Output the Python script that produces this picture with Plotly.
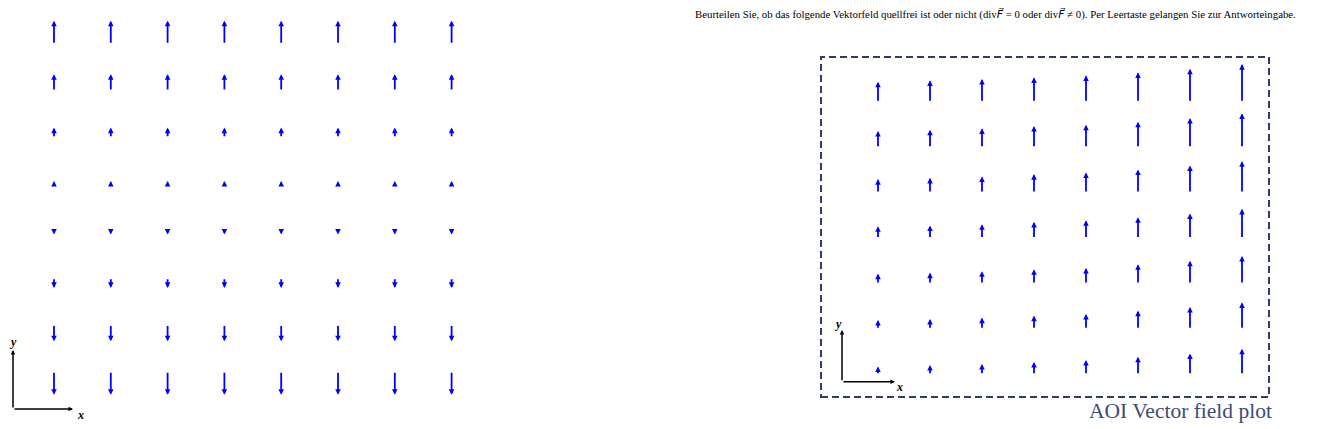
import plotly.graph_objects as go

W, H = 1325, 429
OFF = 8  # page body margin in the browser, positions below are page pixels

# --- DATA ---
# left field: 8 columns x 8 rows, vectors point straight up/down
LEFT_COLS = [1, 2, 3, 4, 5, 6, 7, 8]
LEFT_ROWS = [3.5, 2.5, 1.5, 0.5, -0.5, -1.5, -2.5, -3.5]
LEFT_VY = [3.5, 2.5, 1.5, 0.5, -0.5, -1.5, -2.5, -3.5]   # one value per row

# right field (AOI): 8 columns x 7 rows, vertical component per cell
RIGHT_COLS = [1, 2, 3, 4, 5, 6, 7, 8]
RIGHT_ROWS = [7, 6, 5, 4, 3, 2, 1]
RIGHT_VY = [
    [2.06, 2.20, 2.33, 2.50, 2.70, 3.00, 3.36, 3.83],
    [1.67, 1.80, 1.94, 2.17, 2.30, 2.60, 2.97, 3.44],
    [1.40, 1.53, 1.67, 1.90, 2.07, 2.37, 2.77, 3.20],
    [1.23, 1.30, 1.43, 1.67, 1.83, 2.13, 2.50, 2.97],
    [1.03, 1.13, 1.27, 1.47, 1.60, 1.97, 2.33, 2.80],
    [0.93, 1.03, 1.17, 1.37, 1.53, 1.87, 2.23, 2.70],
    [0.83, 0.97, 1.07, 1.27, 1.47, 1.80, 2.13, 2.60],
]

VEC_F = "<span style=\"font-family:'DejaVu Sans'\"><i>F\u20d7</i></span>"
TITLE = ("Beurteilen Sie, ob das folgende Vektorfeld quellfrei ist oder nicht "
         "(div" + VEC_F + " = 0 oder div" + VEC_F + " \u2260 0). "
         "Per Leertaste gelangen Sie zur Antworteingabe.")
AOI_LABEL = "AOI Vector field plot"

BLUE = "#0000ff"
NAVY = "#2f3d66"

LEFT_SCALE = 0.134   # data units per vector unit (pivot in the middle)
RIGHT_SCALE = 0.22   # data units per vector unit (pivot at tail)

fig = go.Figure()

# invisible anchor traces so both axis pairs exist
fig.add_trace(go.Scatter(x=LEFT_COLS, y=LEFT_ROWS, mode="markers",
                         marker=dict(opacity=0), hoverinfo="skip",
                         showlegend=False, xaxis="x", yaxis="y"))
fig.add_trace(go.Scatter(x=RIGHT_COLS[:7], y=RIGHT_ROWS, mode="markers",
                         marker=dict(opacity=0), hoverinfo="skip",
                         showlegend=False, xaxis="x2", yaxis="y2"))

annotations = []

def arrow(x0, y0, x1, y1, xr, yr, color=BLUE, width=1.8, size=0.62):
    return dict(x=x1, y=y1, ax=x0, ay=y0, xref=xr, yref=yr, axref=xr, ayref=yr,
                text="", showarrow=True, arrowhead=2, arrowsize=size,
                arrowwidth=width, arrowcolor=color, standoff=0, startstandoff=0)

for row, v in zip(LEFT_ROWS, LEFT_VY):
    for col in LEFT_COLS:
        half = v * LEFT_SCALE / 2
        annotations.append(arrow(col, row - half, col, row + half, "x", "y"))

for row, vals in zip(RIGHT_ROWS, RIGHT_VY):
    for col, v in zip(RIGHT_COLS, vals):
        annotations.append(arrow(col, row, col, row + v * RIGHT_SCALE, "x2", "y2"))

# small x/y axis indicators (paper coords, tails given as pixel offsets)
def px(x):
    return (x - OFF) / W

def py(y):
    return 1 - (y - OFF) / H

for (ox, oy, ex, ey_top) in [(13, 409, 73, 350), (842, 381.7, 895, 330)]:
    common = dict(xref="paper", yref="paper", axref="pixel", ayref="pixel", text="",
                  showarrow=True, arrowhead=2, arrowsize=0.6, arrowwidth=1.5,
                  arrowcolor="black", standoff=0)
    annotations.append(dict(x=px(ex), y=py(oy), ax=-(ex - ox), ay=0, **common))
    annotations.append(dict(x=px(ox), y=py(ey_top), ax=0, ay=(oy - ey_top), **common))
for (tx, ty, t, anc) in [(8, 342, "y", "left"), (80, 415, "x", "center"),
                         (838, 324, "y", "center"), (899, 387, "x", "center")]:
    annotations.append(dict(x=px(tx), y=py(ty), xref="paper", yref="paper", text="<b><i>%s</i></b>" % t,
                            xanchor=anc, yanchor="middle", showarrow=False, borderpad=0,
                            font=dict(family="Liberation Serif", size=12, color="black")))

annotations.append(dict(x=px(693), y=py(14), xref="paper", yref="paper", text=TITLE,
                        xanchor="left", yanchor="middle", showarrow=False,
                        font=dict(family="Liberation Serif", size=10.8, color="black")))
annotations.append(dict(x=px(1274), y=py(411), xref="paper", yref="paper", text=AOI_LABEL,
                        xanchor="right", yanchor="middle", showarrow=False,
                        font=dict(family="Liberation Serif", size=21.5, color="#3d4a76")))

fig.update_layout(
    width=W, height=H,
    margin=dict(l=0, r=0, t=0, b=0),
    plot_bgcolor="white", paper_bgcolor="white",
    showlegend=False,
    annotations=annotations,
    xaxis=dict(domain=[0, 1], range=[1 - (54 - OFF) / 56.8, 1 + (W - 54 + OFF) / 56.8], visible=False),
    yaxis=dict(domain=[0, 1], range=[3.5 + (32.5 - OFF) / 50.07 - H / 50.07, 3.5 + (32.5 - OFF) / 50.07],
               visible=False),
    xaxis2=dict(domain=[0, 1], overlaying="x", range=[1 - (878 - OFF) / 52, 1 + (W - 878 + OFF) / 52],
                visible=False),
    yaxis2=dict(domain=[0, 1], overlaying="y",
                range=[7 + (102.3 - OFF) / 45.4 - H / 45.4, 7 + (102.3 - OFF) / 45.4], visible=False),
    shapes=[dict(type="rect", xref="paper", yref="paper", x0=px(821), x1=px(1269), y0=py(397), y1=py(57),
                 line=dict(color=NAVY, width=2, dash="7px,4px"), fillcolor="rgba(0,0,0,0)")],
)

fig.write_html("out.html")
